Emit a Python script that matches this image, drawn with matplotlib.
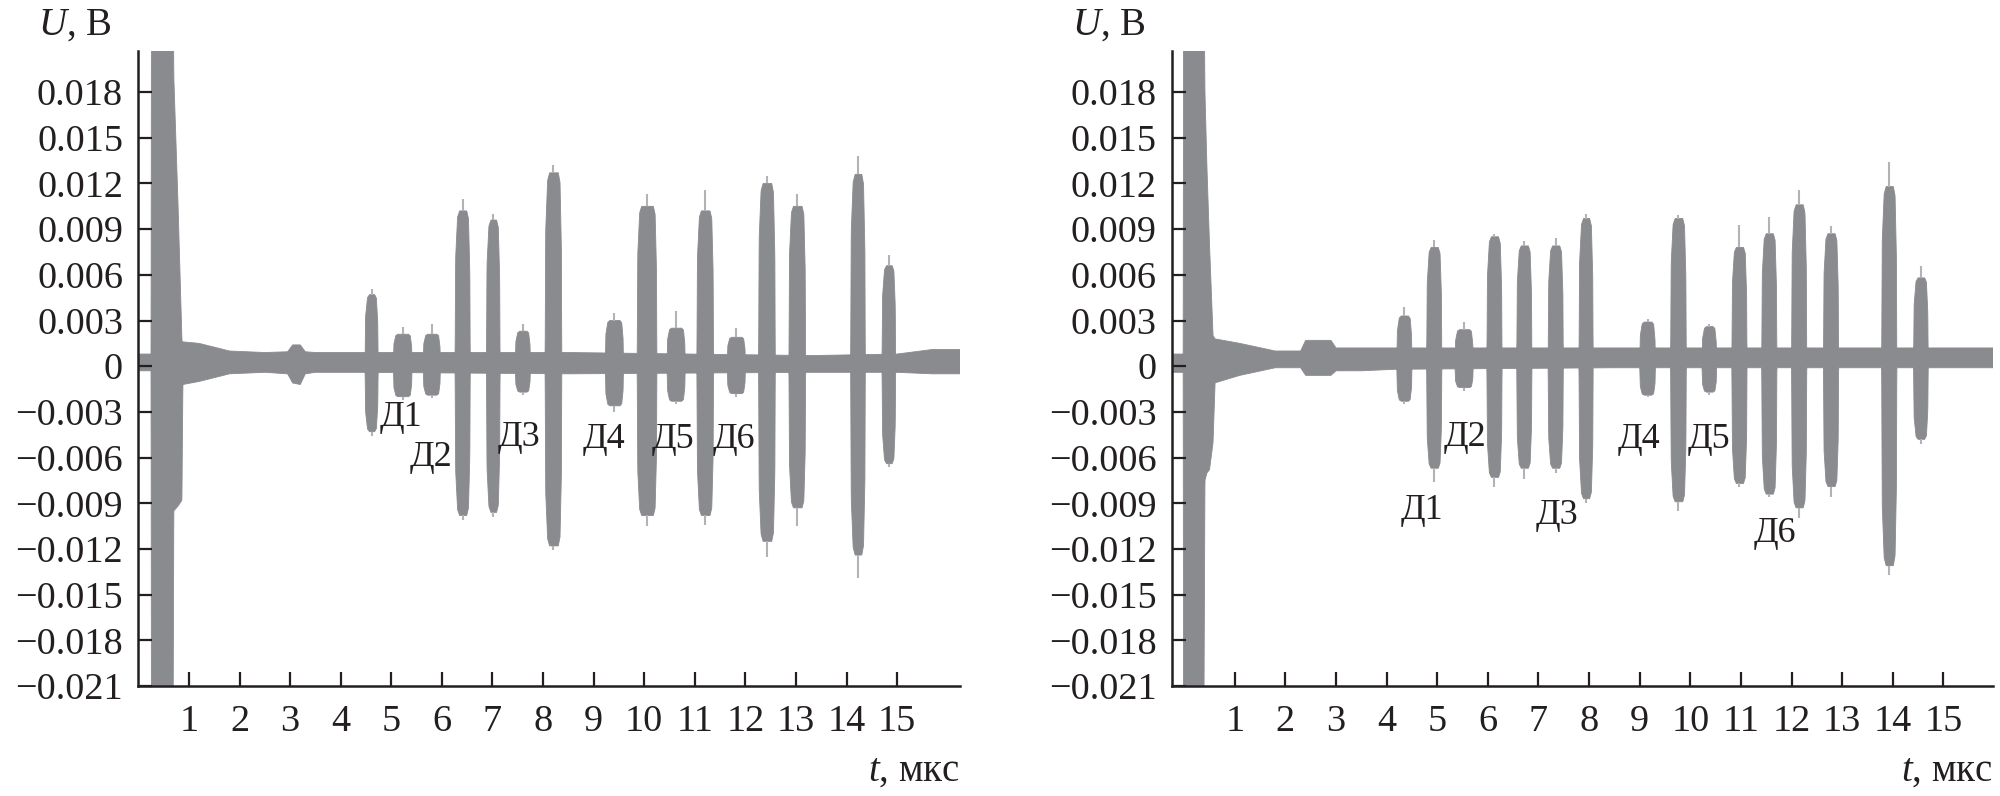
import numpy as np
import matplotlib.pyplot as plt

plt.rcParams['font.family'] = ['Liberation Serif', 'DejaVu Serif']
plt.rcParams['mathtext.fontset'] = 'custom'
plt.rcParams['mathtext.rm'] = 'Liberation Serif'
plt.rcParams['mathtext.it'] = 'Liberation Serif:italic'

ink = '#231f20'
wave = '#8a8b8e'
wave_light = '#b2b3b5'

# time in мкс, voltage in mV (converted to V when drawn)

# ---- left plot ----
noise_t_1 = [0.0, 0.25, 0.88, 1.2, 1.8, 2.5, 2.95, 3.05, 3.2, 3.3, 3.5, 4.45, 8.5, 13.3, 15.0, 15.7, 16.25]
noise_hi_1 = [0.8, 0.8, 1.6, 1.5, 1.0, 0.9, 0.95, 1.4, 1.4, 0.95, 0.9, 0.9, 0.9, 0.7, 0.8, 1.1, 1.1]
noise_lo_1 = [-0.3, -0.3, -1.2, -1.0, -0.5, -0.4, -0.5, -1.1, -1.2, -0.5, -0.4, -0.4, -0.5, -0.4, -0.4, -0.5, -0.5]

pulse_t_1 = [0.25, 0.26, 0.68, 0.70, 0.78, 0.86, 0.88]
pulse_hi_1 = [0.8, 30.0, 30.0, 19.0, 11.0, 1.8, 1.0]
pulse_lo_1 = [-0.3, -30.0, -30.0, -9.5, -9.2, -8.8, -1.0]

starts_1 = [4.48, 5.04, 5.63, 6.26, 6.88, 7.45, 8.04, 9.23, 9.86, 10.45, 11.04, 11.64, 12.26, 12.86, 14.08, 14.70]
ends_1 = [4.74, 5.41, 5.97, 6.56, 7.15, 7.75, 8.37, 9.59, 10.25, 10.81, 11.37, 12.00, 12.59, 13.19, 14.37, 14.97]
tops_1 = [4.7, 2.1, 2.1, 10.2, 9.6, 2.3, 12.7, 3.0, 10.5, 2.5, 10.2, 1.9, 12.0, 10.5, 12.6, 6.6]
bots_1 = [-4.3, -2.0, -1.9, -9.8, -9.6, -1.7, -11.8, -2.6, -9.8, -2.3, -9.8, -1.8, -11.5, -9.3, -12.4, -6.4]
peaks_1 = [5.1, 2.6, 2.8, 11.0, 10.0, 2.8, 13.2, 3.5, 11.3, 3.6, 11.6, 2.5, 12.5, 11.3, 13.8, 7.3]
dips_1 = [-4.6, -2.2, -2.1, -10.1, -9.9, -1.9, -12.1, -3.0, -10.5, -2.5, -10.4, -2.0, -12.5, -10.5, -13.9, -6.6]

labels_1 = ['Д1', 'Д2', 'Д3', 'Д4', 'Д5', 'Д6']
label_t_1 = [5.19, 5.79, 7.53, 9.21, 10.56, 11.78]
label_u_1 = [-3.4, -6.0, -4.7, -4.8, -4.8, -4.8]

# ---- right plot ----
noise_t_2 = [-0.245, -0.02, 0.6, 1.1, 1.8, 2.3, 2.4, 2.9, 3.0, 3.5, 4.17, 8.5, 16.0]
noise_hi_2 = [0.8, 0.8, 1.8, 1.5, 1.0, 1.0, 1.7, 1.7, 1.2, 1.2, 1.2, 1.2, 1.2]
noise_lo_2 = [-0.4, -0.4, -1.1, -0.6, -0.1, -0.1, -0.6, -0.6, -0.3, -0.3, -0.2, -0.1, -0.1]

pulse_t_2 = [-0.02, -0.01, 0.38, 0.41, 0.45, 0.50, 0.57, 0.61]
pulse_hi_2 = [0.8, 30.0, 30.0, 18.0, 13.0, 8.0, 2.0, 1.8]
pulse_lo_2 = [-0.4, -30.0, -30.0, -7.5, -7.0, -6.8, -5.0, -1.1]

starts_2 = [4.20, 4.79, 5.35, 5.98, 6.57, 7.19, 7.80, 9.00, 9.61, 10.23, 10.82, 11.41, 12.00, 12.63, 13.78, 14.41]
ends_2 = [4.50, 5.09, 5.71, 6.28, 6.87, 7.49, 8.08, 9.31, 9.92, 10.52, 11.12, 11.71, 12.30, 12.93, 14.08, 14.70]
tops_2 = [3.3, 7.8, 2.4, 8.5, 7.9, 7.9, 9.7, 2.9, 9.7, 2.6, 7.8, 8.7, 10.6, 8.7, 11.8, 5.8]
bots_2 = [-2.3, -6.7, -1.4, -7.3, -6.7, -6.7, -8.7, -1.9, -8.9, -1.7, -7.7, -8.4, -9.3, -7.9, -13.1, -4.8]
peaks_2 = [3.9, 8.3, 2.9, 8.7, 8.2, 8.4, 10.0, 3.1, 9.9, 2.8, 9.3, 9.8, 11.6, 9.2, 13.4, 6.6]
dips_2 = [-2.5, -7.6, -1.6, -7.9, -7.4, -7.0, -9.0, -2.0, -9.5, -1.9, -7.9, -8.6, -10.0, -8.6, -13.7, -5.1]

labels_2 = ['Д1', 'Д2', 'Д3', 'Д4', 'Д5', 'Д6']
label_t_2 = [4.70, 5.55, 7.37, 8.99, 10.36, 11.67]
label_u_2 = [-9.5, -4.7, -9.8, -4.8, -4.8, -11.0]

x_ticks = list(range(1, 16))
y_ticks = [-0.021, -0.018, -0.015, -0.012, -0.009, -0.006, -0.003, 0,
           0.003, 0.006, 0.009, 0.012, 0.015, 0.018]


def build_envelope(t, noise_t, noise_hi, noise_lo, pulse_t, pulse_hi, pulse_lo,
                   starts, ends, tops, bots):
    hi = np.interp(t, noise_t, noise_hi)
    lo = np.interp(t, noise_t, noise_lo)
    m = (t >= pulse_t[0]) & (t <= pulse_t[-1])
    hi[m] = np.maximum(hi[m], np.interp(t[m], pulse_t, pulse_hi))
    lo[m] = np.minimum(lo[m], np.interp(t[m], pulse_t, pulse_lo))
    for s, e, top, bot in zip(starts, ends, tops, bots):
        m = (t >= s) & (t <= e)
        # burst outline: steep sides, slightly rounded shoulders
        xs = [s, s + 0.012, s + 0.05, s + 0.09, e - 0.07, e - 0.035, e - 0.008, e]
        fr = [0.0, 0.7, 0.96, 1.0, 1.0, 0.95, 0.6, 0.0]
        f = np.interp(t[m], xs, fr)
        hi[m] = np.maximum(hi[m], top * f)
        lo[m] = np.minimum(lo[m], bot * f)
    return hi, lo


def draw_panel(ax, xlim, noise, pulse, bursts, extremes, labels):
    t = np.linspace(xlim[0], xlim[1], 6000)
    hi, lo = build_envelope(t, *noise, *pulse, *bursts)
    starts, ends = bursts[0], bursts[1]
    centers = [(s + e) / 2 for s, e in zip(starts, ends)]
    ax.vlines(centers, np.array(bursts[2]) * 1e-3, np.array(extremes[0]) * 1e-3,
              color=wave_light, lw=1.5)
    ax.vlines(centers, np.array(bursts[3]) * 1e-3, np.array(extremes[1]) * 1e-3,
              color=wave_light, lw=1.5)
    ax.fill_between(t, lo * 1e-3, hi * 1e-3, color=wave, lw=0.6, edgecolor=wave)

    for name, lt, lu in zip(*labels):
        ax.text(lt, lu * 1e-3, name, ha='center', va='center', fontsize=26, color=ink)

    ax.set_xlim(*xlim)
    ax.set_ylim(-0.021, 0.0207)
    ax.set_xticks(x_ticks)
    ax.set_xticklabels([str(v) for v in x_ticks])
    ax.set_yticks(y_ticks)
    ax.set_yticklabels(['0' if v == 0 else f'{v:.3f}'.replace('-', '\u2212') for v in y_ticks])
    for side in ['top', 'right']:
        ax.spines[side].set_visible(False)
    for side in ['left', 'bottom']:
        ax.spines[side].set_linewidth(1.8)
        ax.spines[side].set_color(ink)
    ax.tick_params(axis='both', direction='in', length=10, width=1.6, color=ink,
                   labelsize=27.5, labelcolor=ink)
    ax.tick_params(axis='y', pad=11)
    ax.tick_params(axis='x', pad=13)


fig = plt.figure(figsize=(20, 7.96), dpi=100)
ax1 = fig.add_axes([0.0692, 0.1382, 0.411, 0.7977])
ax2 = fig.add_axes([0.5859, 0.1382, 0.4106, 0.7977])

draw_panel(ax1, (0.0, 16.25),
           (noise_t_1, noise_hi_1, noise_lo_1),
           (pulse_t_1, pulse_hi_1, pulse_lo_1),
           (starts_1, ends_1, tops_1, bots_1),
           (peaks_1, dips_1),
           (labels_1, label_t_1, label_u_1))
draw_panel(ax2, (-0.245, 15.98),
           (noise_t_2, noise_hi_2, noise_lo_2),
           (pulse_t_2, pulse_hi_2, pulse_lo_2),
           (starts_2, ends_2, tops_2, bots_2),
           (peaks_2, dips_2),
           (labels_2, label_t_2, label_u_2))

for x0 in [0.019, 0.5359]:
    fig.text(x0, 0.956, r'$\mathit{U}$, В', fontsize=28, color=ink, va='baseline', ha='left')
for x1 in [0.48, 0.9965]:
    fig.text(x1, 0.019, r'$\mathit{t}$, мкс', fontsize=28, color=ink, va='baseline', ha='right')

fig.savefig('out.png', dpi=100)
